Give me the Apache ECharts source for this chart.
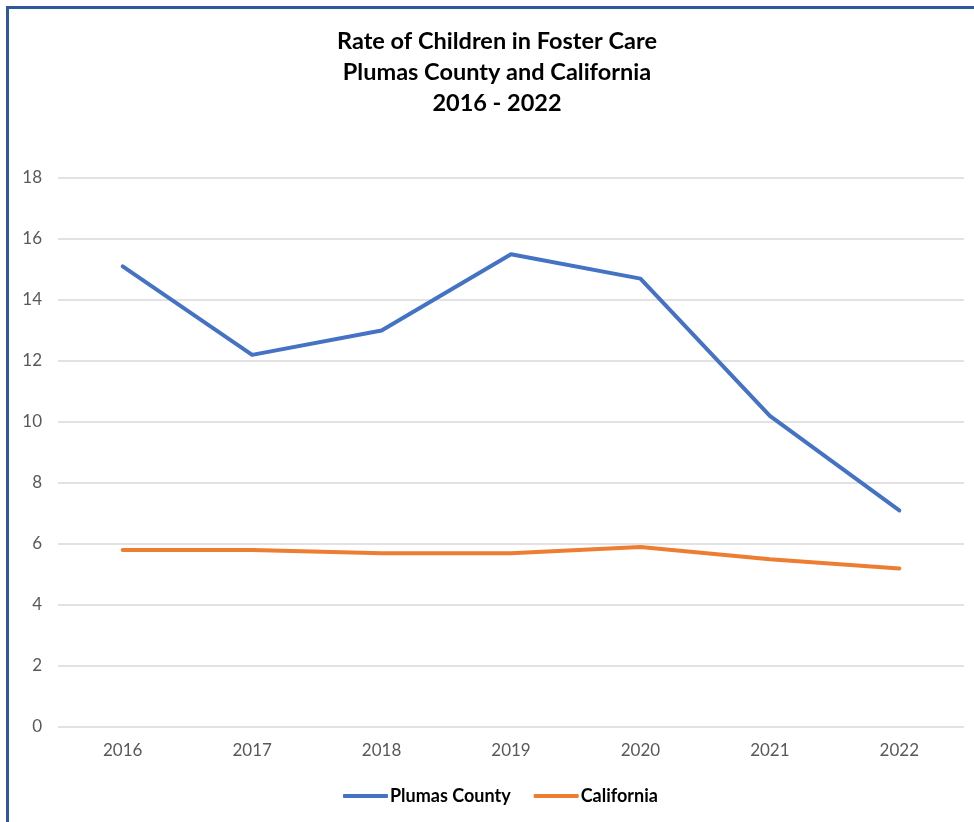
<!DOCTYPE html>
<html>
<head>
<meta charset="utf-8">
<script src="https://cdn.jsdelivr.net/npm/echarts@6/dist/echarts.min.js"></script>
<style>
html,body{margin:0;padding:0;background:#fff;overflow:hidden;}
#chart{position:absolute;left:0;top:0;width:974px;height:822px;}
#frame{position:absolute;left:6px;top:6px;width:1000px;height:1000px;border:3px solid #2F589F;box-sizing:border-box;pointer-events:none;}
</style>
</head>
<body>
<div id="chart"></div>
<div id="frame"></div>
<script>
const years = ['2016','2017','2018','2019','2020','2021','2022'];
const plumas = [15.1, 12.2, 13.0, 15.5, 14.7, 10.2, 7.1];
const california = [5.8, 5.8, 5.7, 5.7, 5.9, 5.5, 5.2];
const titleText = 'Rate of Children in Foster Care\nPlumas County and California\n2016 - 2022';

const chart = echarts.init(document.getElementById('chart'));
const font = 'Lato, "Open Sans", "Noto Sans", sans-serif';
chart.setOption({
  animation: false,
  graphic: [{
    type: 'text',
    x: 497,
    y: 26,
    style: {
      text: titleText,
      textAlign: 'center',
      textVerticalAlign: 'top',
      fontFamily: font,
      fontSize: 23.5,
      fontWeight: 'bold',
      fill: '#000',
      lineHeight: 31
    }
  }],
  legend: {
    bottom: 12,
    left: 338,
    itemWidth: 45,
    itemHeight: 4,
    itemGap: 23,
    icon: 'roundRect',
    textStyle: {fontFamily: font, fontSize: 18, fontWeight: 'bold', color: '#000', padding: [0,0,0,-3]},
    data: ['Plumas County', 'California']
  },
  grid: {left: 58, right: 10, top: 178, bottom: 95, containLabel: false},
  xAxis: {
    type: 'category',
    data: years,
    boundaryGap: true,
    axisLine: {show: false},
    axisTick: {show: false},
    axisLabel: {color: '#595959', fontSize: 17, fontFamily: font, margin: 15}
  },
  yAxis: {
    type: 'value',
    min: 0, max: 18, interval: 2,
    axisLine: {show: false},
    axisTick: {show: false},
    splitLine: {lineStyle: {color: '#d9d9d9', width: 1.5}},
    axisLabel: {color: '#595959', fontSize: 17, fontFamily: font, margin: 16}
  },
  series: [
    {name: 'Plumas County', type: 'line', data: plumas, symbol: 'none', color: '#4472C4',
     lineStyle: {width: 4, color: '#4472C4', cap: 'round', join: 'round'}},
    {name: 'California', type: 'line', data: california, symbol: 'none', color: '#ED7D31',
     lineStyle: {width: 4, color: '#ED7D31', cap: 'round', join: 'round'}}
  ]
});
</script>
</body>
</html>
